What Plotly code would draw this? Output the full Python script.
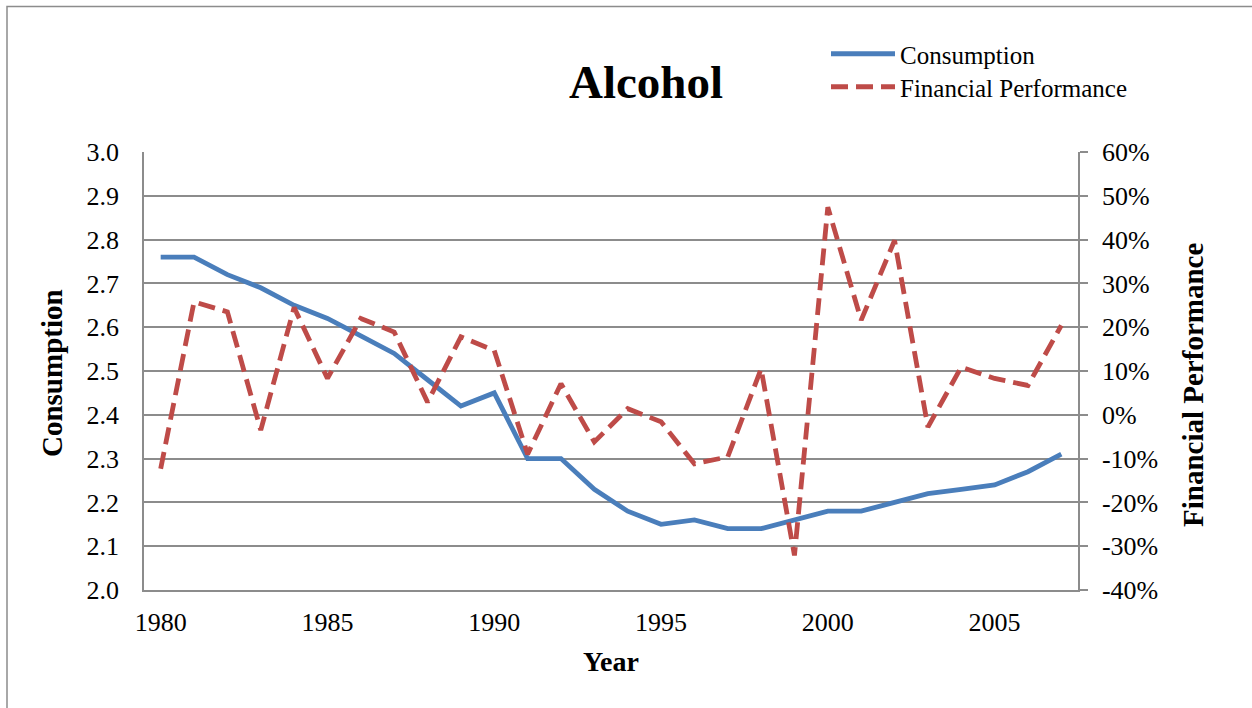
import plotly.graph_objects as go

years = list(range(1980, 2008))
consumption = [2.76, 2.76, 2.72, 2.69, 2.65, 2.62, 2.58, 2.54, 2.48, 2.42,
               2.45, 2.30, 2.30, 2.23, 2.18, 2.15, 2.16, 2.14, 2.14, 2.16,
               2.18, 2.18, 2.20, 2.22, 2.23, 2.24, 2.27, 2.31]
financial_performance = [-0.123, 0.258, 0.235, -0.035, 0.245, 0.083, 0.22, 0.189, 0.029, 0.178,
                         0.147, -0.09, 0.071, -0.062, 0.014, -0.016, -0.112, -0.096, 0.105, -0.321,
                         0.474, 0.216, 0.398, -0.028, 0.109, 0.083, 0.067, 0.204]
x_tick_vals = [1980, 1985, 1990, 1995, 2000, 2005]
x_tick_text = ["1980", "1985", "1990", "1995", "2000", "2005"]
y2_tick_vals = [-0.4, -0.3, -0.2, -0.1, 0.0, 0.1, 0.2, 0.3, 0.4, 0.5, 0.6]
y2_tick_text = ["-40%", "-30%", "-20%", "-10%", "0%", "10%", "20%", "30%", "40%", "50%", "60%"]

FONT = "Liberation Serif, Times New Roman, serif"
GRID = "#8C8C8C"

# plot area in pixels
PL, PR, PT, PB = 144, 1078, 152, 590
PW, PH = PR - PL, PB - PT

def px_x(x):
    return (x - PL) / PW

def px_y(y):
    return (PB - y) / PH

fig = go.Figure()
fig.add_trace(go.Scatter(
    x=years, y=consumption, name="Consumption", mode="lines",
    line=dict(color="#4A7EBB", width=4.8), yaxis="y", legend="legend"))
fig.add_trace(go.Scatter(
    x=years, y=financial_performance, name="Financial Performance", mode="lines",
    line=dict(color="#BE4B48", width=4.8, dash="17px,8px"), yaxis="y2", legend="legend2"))

leg_common = dict(xanchor="left", yanchor="top", font=dict(family=FONT, size=25, color="black"),
                  bgcolor="rgba(0,0,0,0)", itemwidth=64)

fig.update_layout(
    width=1252, height=708,
    margin=dict(l=PL, r=1252 - PR, t=PT, b=708 - PB),
    paper_bgcolor="white", plot_bgcolor="white",
    font=dict(family=FONT, size=26, color="black"),
    title=dict(text="<b>Alcohol</b>", x=px_x(646), xref="paper", xanchor="center",
               y=1 - 82 / 708, yref="container", yanchor="middle",
               font=dict(family=FONT, size=47, color="black")),
    showlegend=True,
    legend=dict(x=px_x(826), y=px_y(31), **leg_common),
    legend2=dict(x=px_x(826), y=px_y(64), **leg_common),
    xaxis=dict(range=[1979.5, 2007.5], tickvals=x_tick_vals, ticktext=x_tick_text,
               showgrid=False, zeroline=False, showline=True, linecolor=GRID, linewidth=1.5,
               ticks="", ticklabelstandoff=8,
               title=dict(text="<b>Year</b>", font=dict(family=FONT, size=28), standoff=15)),
    yaxis=dict(range=[2.0, 3.0], dtick=0.1, tick0=2.0, tickformat=".1f",
               showgrid=True, gridcolor=GRID, gridwidth=1.5, zeroline=False,
               showline=True, linecolor=GRID, linewidth=1.5, ticks="",
               ticklabelstandoff=18),
    yaxis2=dict(range=[-0.4, 0.6], tickvals=y2_tick_vals, ticktext=y2_tick_text,
                overlaying="y", side="right", showgrid=False, zeroline=False,
                showline=True, linecolor=GRID, linewidth=1.5,
                ticks="outside", ticklen=8, tickcolor=GRID, tickwidth=1.5,
                ticklabelstandoff=9),
)

fig.add_annotation(text="<b>Consumption</b>", xref="paper", yref="paper",
                   x=px_x(52), y=px_y(373), xanchor="center", yanchor="middle",
                   textangle=-90, showarrow=False, font=dict(family=FONT, size=29, color="black"))
fig.add_annotation(text="<b>Financial Performance</b>", xref="paper", yref="paper",
                   x=px_x(1193), y=px_y(385), xanchor="center", yanchor="middle",
                   textangle=-90, showarrow=False, font=dict(family=FONT, size=29, color="black"))

# outer chart border (partly cropped at right and bottom in the reference)
fig.add_shape(type="rect", xref="paper", yref="paper",
              x0=px_x(7), x1=px_x(1262), y0=px_y(720), y1=px_y(6.5),
              line=dict(color="#8C8C8C", width=1.5), fillcolor="rgba(0,0,0,0)", layer="below")

fig.write_html("out.html")
